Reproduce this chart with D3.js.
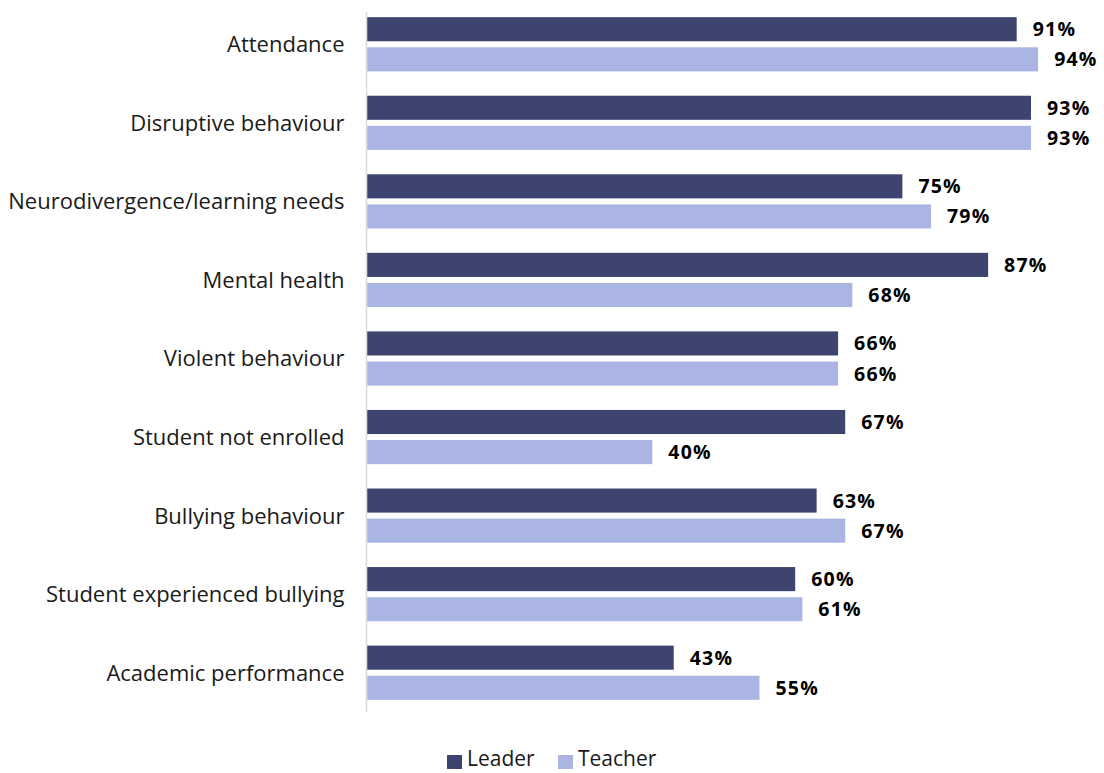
<!DOCTYPE html>
<html>
<head>
<meta charset="utf-8">
<script src="https://cdn.jsdelivr.net/npm/d3@7"></script>
<style>
  html, body { margin: 0; padding: 0; background: #ffffff; }
  svg { display: block; }
</style>
</head>
<body>
<svg id="chart" width="1104" height="773"></svg>
<script>
// Survey responses by issue, for school leaders and teachers (%)
const categories = [
  "Attendance",
  "Disruptive behaviour",
  "Neurodivergence/learning needs",
  "Mental health",
  "Violent behaviour",
  "Student not enrolled",
  "Bullying behaviour",
  "Student experienced bullying",
  "Academic performance"
];
const seriesNames = ["Leader", "Teacher"];
const leaderValues  = [91, 93, 75, 87, 66, 67, 63, 60, 43];
const teacherValues = [94, 93, 79, 68, 66, 40, 67, 61, 55];
const seriesColors = ["#3c446f", "#abb5e3"];

const rows = categories.map((c, i) => ({
  category: c,
  values: [
    { series: seriesNames[0], value: leaderValues[i] },
    { series: seriesNames[1], value: teacherValues[i] }
  ]
}));

const svg = d3.select("#chart");
const font = "'Open Sans', 'Liberation Sans', Arial, sans-serif";

const x = d3.scaleLinear().domain([0, 100]).range([366.5, 1081]);
const y0 = d3.scaleBand()
  .domain(categories)
  .range([5, 712])
  .paddingInner(0.31)
  .paddingOuter(0.155);
const y1 = d3.scaleBand()
  .domain(seriesNames)
  .range([0, y0.bandwidth()])
  .paddingInner(0.2);
const color = d3.scaleOrdinal().domain(seriesNames).range(seriesColors);

// Category axis (left), drawn as a thin gray baseline with labels
const yAxis = d3.axisLeft(y0).tickSize(0).tickPadding(22);
const gy = svg.append("g")
  .attr("transform", `translate(${x(0)},0)`)
  .call(yAxis);
gy.select(".domain").remove();
gy.selectAll("text")
  .attr("font-family", font)
  .attr("font-size", 22)
  .attr("fill", "#1a1a1a")
  .attr("dy", "0.36em");

svg.append("line")
  .attr("x1", x(0)).attr("x2", x(0))
  .attr("y1", 12).attr("y2", 712)
  .attr("stroke", "#d9d9d9")
  .attr("stroke-width", 1.5);

// Grouped bars
const groups = svg.append("g")
  .selectAll("g")
  .data(rows)
  .join("g")
  .attr("transform", d => `translate(0,${y0(d.category)})`);

groups.selectAll("rect")
  .data(d => d.values)
  .join("rect")
  .attr("x", x(0) + 0.75)
  .attr("y", d => y1(d.series))
  .attr("width", d => x(d.value) - x(0) - 0.75)
  .attr("height", y1.bandwidth())
  .attr("fill", d => color(d.series));

groups.selectAll("text")
  .data(d => d.values)
  .join("text")
  .attr("x", d => x(d.value) + 16)
  .attr("y", d => y1(d.series) + y1.bandwidth() / 2)
  .attr("dy", "0.36em")
  .attr("font-family", font)
  .attr("font-weight", 700)
  .attr("font-size", 19.5)
  .attr("letter-spacing", 1.2)
  .attr("fill", "#000000")
  .text(d => d.value + "%");

// Legend
const legendItems = [
  { name: seriesNames[0], x: 447 },
  { name: seriesNames[1], x: 558 }
];
const legend = svg.append("g");
const li = legend.selectAll("g")
  .data(legendItems)
  .join("g")
  .attr("transform", d => `translate(${d.x},754)`);
li.append("rect")
  .attr("y", 1)
  .attr("width", 15)
  .attr("height", 14)
  .attr("fill", d => color(d.name));
li.append("text")
  .attr("x", 20)
  .attr("y", 12)
  .attr("font-family", font)
  .attr("font-size", 21)
  .attr("fill", "#1a1a1a")
  .text(d => d.name);
</script>
</body>
</html>
